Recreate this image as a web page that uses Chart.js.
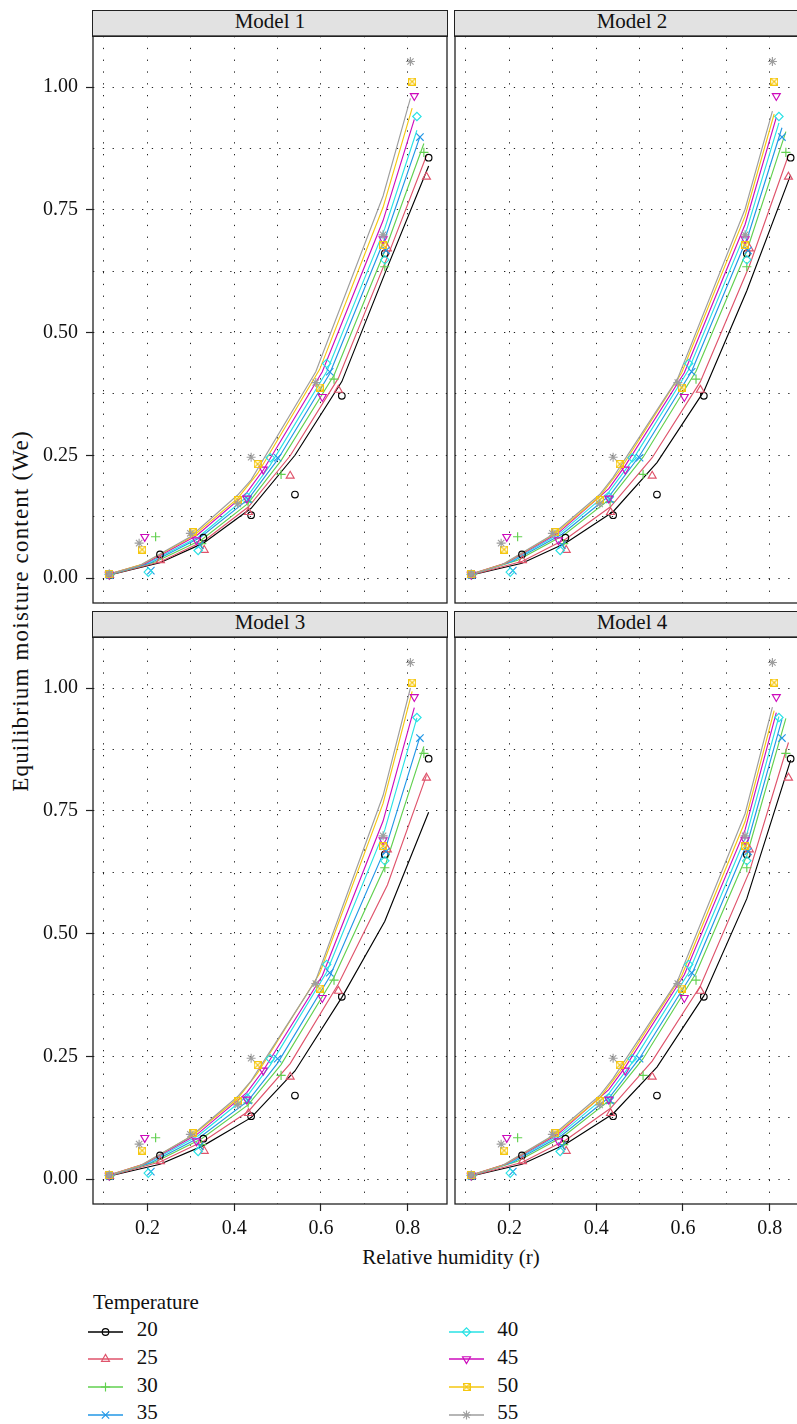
<!DOCTYPE html>
<html>
<head>
<meta charset="utf-8">
<script src="https://cdn.jsdelivr.net/npm/chart.js@4.4.1/dist/chart.umd.min.js"></script>
<style>
  html, body { margin: 0; padding: 0; background: #fff; }
  body { width: 797px; height: 1424px; overflow: hidden; position: relative;
         font-family: "Liberation Serif", "DejaVu Serif", serif; color: #111; }
  canvas { position: absolute; }
  .strip { position: absolute; box-sizing: border-box; border: 1.3px solid #222; background: #e2e2e2;
           font-size: 21px; line-height: 20px; text-align: center; }
  .lbl { position: absolute; font-size: 21px; line-height: 21px; white-space: nowrap; }
</style>
</head>
<body>
<div class="strip" style="left:92.4px;top:10px;width:355.2px;height:26.6px">Model 1</div>
<div class="strip" style="left:454.4px;top:10px;width:355.2px;height:26.6px">Model 2</div>
<div class="strip" style="left:92.4px;top:611px;width:355.2px;height:26.6px">Model 3</div>
<div class="strip" style="left:454.4px;top:611px;width:355.2px;height:26.6px">Model 4</div>

<div class="lbl" style="left:20px;top:611px;font-size:23px;letter-spacing:1.2px;transform:translate(-50%,-50%) rotate(-90deg)">Equilibrium moisture content (We)</div>
<div class="lbl" style="left:451px;top:1247px;transform:translateX(-50%)">Relative humidity (r)</div>
<div class="lbl" style="left:93px;top:1292px">Temperature</div>

<script>
// temperature groups
const temps = [20, 25, 30, 35, 40, 45, 50, 55];
const colors = ["#000000", "#DF536B", "#61D04F", "#2297E6", "#28E2E5", "#CD0BBC", "#F5C710", "#9E9E9E"];

// relative humidity of each measurement, one array per temperature
const rh20 = [0.113, 0.229, 0.329, 0.439, 0.540, 0.648, 0.747, 0.848];
const rh25 = [0.113, 0.230, 0.331, 0.433, 0.529, 0.640, 0.753, 0.843];
const rh30 = [0.113, 0.219, 0.325, 0.432, 0.508, 0.630, 0.747, 0.837];
const rh35 = [0.113, 0.208, 0.321, 0.432, 0.500, 0.620, 0.750, 0.828];
const rh40 = [0.112, 0.202, 0.317, 0.430, 0.483, 0.613, 0.747, 0.821];
const rh45 = [0.112, 0.194, 0.313, 0.429, 0.467, 0.603, 0.743, 0.815];
const rh50 = [0.112, 0.188, 0.305, 0.408, 0.454, 0.597, 0.743, 0.810];
const rh55 = [0.112, 0.181, 0.299, 0.408, 0.439, 0.588, 0.743, 0.806];

// measured equilibrium moisture content
const we20 = [0.006, 0.048, 0.082, 0.128, 0.170, 0.371, 0.661, 0.856];
const we25 = [0.006, 0.036, 0.057, 0.134, 0.208, 0.383, 0.671, 0.817];
const we30 = [0.006, 0.084, 0.070, 0.155, 0.211, 0.405, 0.634, 0.867];
const we35 = [0.006, 0.015, 0.067, 0.160, 0.245, 0.420, 0.667, 0.898];
const we40 = [0.007, 0.012, 0.056, 0.165, 0.245, 0.437, 0.648, 0.940];
const we45 = [0.007, 0.084, 0.077, 0.162, 0.221, 0.369, 0.690, 0.982];
const we50 = [0.008, 0.058, 0.093, 0.159, 0.232, 0.388, 0.678, 1.011];
const we55 = [0.008, 0.071, 0.091, 0.151, 0.246, 0.398, 0.699, 1.052];

// fitted values per model (rows: 20 .. 55)
const fit1 = [
  [0.006, 0.031, 0.071, 0.142, 0.250, 0.400, 0.620, 0.839],
  [0.006, 0.033, 0.076, 0.145, 0.249, 0.407, 0.654, 0.860],
  [0.007, 0.033, 0.078, 0.152, 0.239, 0.413, 0.666, 0.885],
  [0.007, 0.031, 0.082, 0.160, 0.241, 0.416, 0.698, 0.899],
  [0.007, 0.031, 0.083, 0.166, 0.230, 0.420, 0.712, 0.912],
  [0.008, 0.029, 0.086, 0.174, 0.220, 0.420, 0.728, 0.934],
  [0.008, 0.028, 0.085, 0.162, 0.213, 0.425, 0.755, 0.957],
  [0.008, 0.025, 0.084, 0.169, 0.200, 0.420, 0.778, 0.977]
];
const fit2 = [
  [0.006, 0.030, 0.071, 0.135, 0.235, 0.380, 0.585, 0.821],
  [0.006, 0.034, 0.080, 0.145, 0.245, 0.400, 0.636, 0.861],
  [0.007, 0.036, 0.087, 0.161, 0.246, 0.421, 0.666, 0.909],
  [0.007, 0.034, 0.089, 0.169, 0.249, 0.421, 0.697, 0.917],
  [0.007, 0.033, 0.091, 0.176, 0.239, 0.424, 0.710, 0.927],
  [0.008, 0.031, 0.092, 0.182, 0.229, 0.418, 0.720, 0.938],
  [0.008, 0.029, 0.090, 0.166, 0.219, 0.418, 0.737, 0.945],
  [0.008, 0.026, 0.088, 0.170, 0.205, 0.407, 0.751, 0.951]
];
const fit3 = [
  [0.006, 0.030, 0.068, 0.125, 0.220, 0.370, 0.525, 0.747],
  [0.006, 0.035, 0.078, 0.138, 0.235, 0.397, 0.599, 0.822],
  [0.007, 0.035, 0.082, 0.151, 0.233, 0.411, 0.636, 0.881],
  [0.007, 0.033, 0.085, 0.159, 0.236, 0.412, 0.677, 0.901],
  [0.007, 0.033, 0.088, 0.169, 0.232, 0.421, 0.711, 0.939],
  [0.008, 0.031, 0.090, 0.176, 0.221, 0.414, 0.729, 0.960],
  [0.008, 0.029, 0.089, 0.164, 0.216, 0.419, 0.765, 0.993],
  [0.008, 0.026, 0.086, 0.168, 0.200, 0.405, 0.781, 1.000]
];
const fit4 = [
  [0.006, 0.030, 0.071, 0.133, 0.228, 0.373, 0.571, 0.853],
  [0.006, 0.034, 0.080, 0.144, 0.240, 0.393, 0.626, 0.889],
  [0.007, 0.036, 0.087, 0.161, 0.245, 0.419, 0.659, 0.938],
  [0.007, 0.034, 0.089, 0.168, 0.246, 0.416, 0.689, 0.936],
  [0.007, 0.033, 0.091, 0.175, 0.237, 0.420, 0.702, 0.942],
  [0.008, 0.031, 0.092, 0.182, 0.228, 0.416, 0.711, 0.950],
  [0.008, 0.029, 0.090, 0.165, 0.218, 0.414, 0.728, 0.954],
  [0.008, 0.026, 0.088, 0.170, 0.205, 0.405, 0.744, 0.961]
];

// axes
const xTicks = [0.1, 0.2, 0.3, 0.4, 0.5, 0.6, 0.7, 0.8];
const xLabels = [0.2, 0.4, 0.6, 0.8];
const yTicks = [0, 0.125, 0.25, 0.375, 0.5, 0.625, 0.75, 0.875, 1.0];
const yLabels = [0, 0.25, 0.5, 0.75, 1.0];

const rh = [rh20, rh25, rh30, rh35, rh40, rh45, rh50, rh55];
const we = [we20, we25, we30, we35, we40, we45, we50, we55];

const FONT = '"Liberation Serif", "DejaVu Serif", serif';
const PLOT_W = 354, PLOT_H = 567;
const X_MIN = 0.0747, X_MAX = 0.8903;
const Y_MIN = -0.0509, Y_MAX = 1.1039;

// square with a cross (lattice pch 7)
function boxCross(color) {
    const c = document.createElement("canvas");
    c.width = 8; c.height = 8;
    const g = c.getContext("2d");
    g.strokeStyle = color; g.lineWidth = 1.1;
    g.strokeRect(0.5, 0.5, 7, 7);
    g.beginPath();
    g.moveTo(0.5, 0.5); g.lineTo(7.5, 7.5);
    g.moveTo(7.5, 0.5); g.lineTo(0.5, 7.5);
    g.stroke();
    return c;
}

const styles = ["circle", "triangle", "cross", "crossRot", "rectRot", "triangle", boxCross(colors[6]), "star"];
const rots = [0, 0, 0, 0, 0, 180, 0, 0];
const radii = [3.3, 4.6, 4.6, 5.2, 4.2, 4.6, 4, 4.5];

const isIn = (list, v) => list.some(t => Math.abs(t - v) < 1e-6);

const framePlugin = {
    id: "frame",
    afterDraw(chart) {
        const { ctx, chartArea: a } = chart;
        ctx.save();
        ctx.strokeStyle = "#222";
        ctx.lineWidth = 1.3;
        ctx.strokeRect(a.left, a.top, a.right - a.left, a.bottom - a.top);
        ctx.restore();
    }
};

function noPad(s) {
    s.paddingTop = 0; s.paddingBottom = 0; s.paddingLeft = 0; s.paddingRight = 0;
}

function makePanel(fit, left, top, showY, showX) {
    const padL = showY ? left : 2;
    const padB = showX ? 42 : 2;
    const cv = document.createElement("canvas");
    cv.width = padL + PLOT_W + 2;
    cv.height = 2 + PLOT_H + padB;
    cv.style.left = (left - padL) + "px";
    cv.style.top = (top - 2) + "px";
    document.body.appendChild(cv);

    const datasets = [];
    temps.forEach((t, i) => {
        datasets.push({
            label: "fit " + t,
            data: rh[i].map((x, k) => ({ x: x, y: fit[i][k] })),
            showLine: true,
            borderColor: colors[i],
            borderWidth: 1.15,
            pointRadius: 0,
            fill: false,
            tension: 0,
            order: 20 - i
        });
        datasets.push({
            label: String(t),
            data: rh[i].map((x, k) => ({ x: x, y: we[i][k] })),
            showLine: false,
            pointStyle: styles[i],
            pointRotation: rots[i],
            pointRadius: radii[i],
            borderColor: colors[i],
            pointBorderColor: colors[i],
            backgroundColor: "rgba(0,0,0,0)",
            pointBackgroundColor: "rgba(0,0,0,0)",
            pointBorderWidth: 1.15,
            order: 7 - i
        });
    });

    new Chart(cv, {
        type: "scatter",
        data: { datasets: datasets },
        options: {
            responsive: false,
            animation: false,
            devicePixelRatio: 1,
            layout: { padding: { top: 2, right: 2, left: 0, bottom: 0 }, autoPadding: false },
            plugins: { legend: { display: false }, tooltip: { enabled: false } },
            scales: {
                x: {
                    type: "linear", min: X_MIN, max: X_MAX,
                    afterBuildTicks: s => { s.ticks = xTicks.map(v => ({ value: v })); },
                    afterFit: s => { s.height = padB; noPad(s); },
                    ticks: {
                        display: showX, autoSkip: false, maxRotation: 0, padding: 6,
                        color: "#111", font: { family: FONT, size: 20 },
                        callback: v => isIn(xLabels, v) ? v.toFixed(1) : ""
                    },
                    grid: {
                        color: "#222", lineWidth: 1, drawTicks: showX, tickLength: 7, tickWidth: 1.2,
                        tickBorderDash: [],
                        tickColor: c => (c.tick && isIn(xLabels, c.tick.value)) ? "#222" : "rgba(0,0,0,0)"
                    },
                    border: { display: false, dash: [1.3, 10.5] }
                },
                y: {
                    type: "linear", min: Y_MIN, max: Y_MAX,
                    afterBuildTicks: s => { s.ticks = yTicks.map(v => ({ value: v })); },
                    afterFit: s => { s.width = padL; noPad(s); },
                    ticks: {
                        display: showY, autoSkip: false, padding: 8,
                        color: "#111", font: { family: FONT, size: 20 },
                        callback: v => isIn(yLabels, v) ? v.toFixed(2) : ""
                    },
                    grid: {
                        color: "#222", lineWidth: 1, drawTicks: showY, tickLength: 7, tickWidth: 1.2,
                        tickBorderDash: [],
                        tickColor: c => (c.tick && isIn(yLabels, c.tick.value)) ? "#222" : "rgba(0,0,0,0)"
                    },
                    border: { display: false, dash: [1.3, 8.5] }
                }
            }
        },
        plugins: [framePlugin]
    });
}

makePanel(fit1, 93, 36, true, false);
makePanel(fit2, 455, 36, false, false);
makePanel(fit3, 93, 637, true, true);
makePanel(fit4, 455, 637, false, true);

// legend: two columns, line with marker
const legendBase = [1336.7, 1364.4, 1392.2, 1420];
temps.forEach((t, i) => {
    const col = i < 4 ? 0 : 1;
    const row = i % 4;
    const symLeft = col === 0 ? 88 : 449;
    const textLeft = col === 0 ? 136.7 : 497.3;
    const yc = legendBase[row] - 5;

    const cv = document.createElement("canvas");
    cv.width = 35; cv.height = 16;
    cv.style.left = symLeft + "px";
    cv.style.top = (yc - 8) + "px";
    document.body.appendChild(cv);
    const g = cv.getContext("2d");
    g.strokeStyle = colors[i];
    g.lineWidth = 1.3;
    g.beginPath(); g.moveTo(0, 8); g.lineTo(35, 8); g.stroke();
    g.fillStyle = "rgba(0,0,0,0)";
    g.lineWidth = 1.15;
    if (Chart.helpers && Chart.helpers.drawPoint) {
        Chart.helpers.drawPoint(g, { pointStyle: styles[i], rotation: rots[i], radius: radii[i], borderWidth: 1.15 }, 17.5, 8);
    }

    const lab = document.createElement("div");
    lab.className = "lbl";
    lab.style.left = textLeft + "px";
    lab.style.top = (legendBase[row] - 17.6) + "px";
    lab.textContent = String(t);
    document.body.appendChild(lab);
});
</script>
</body>
</html>
